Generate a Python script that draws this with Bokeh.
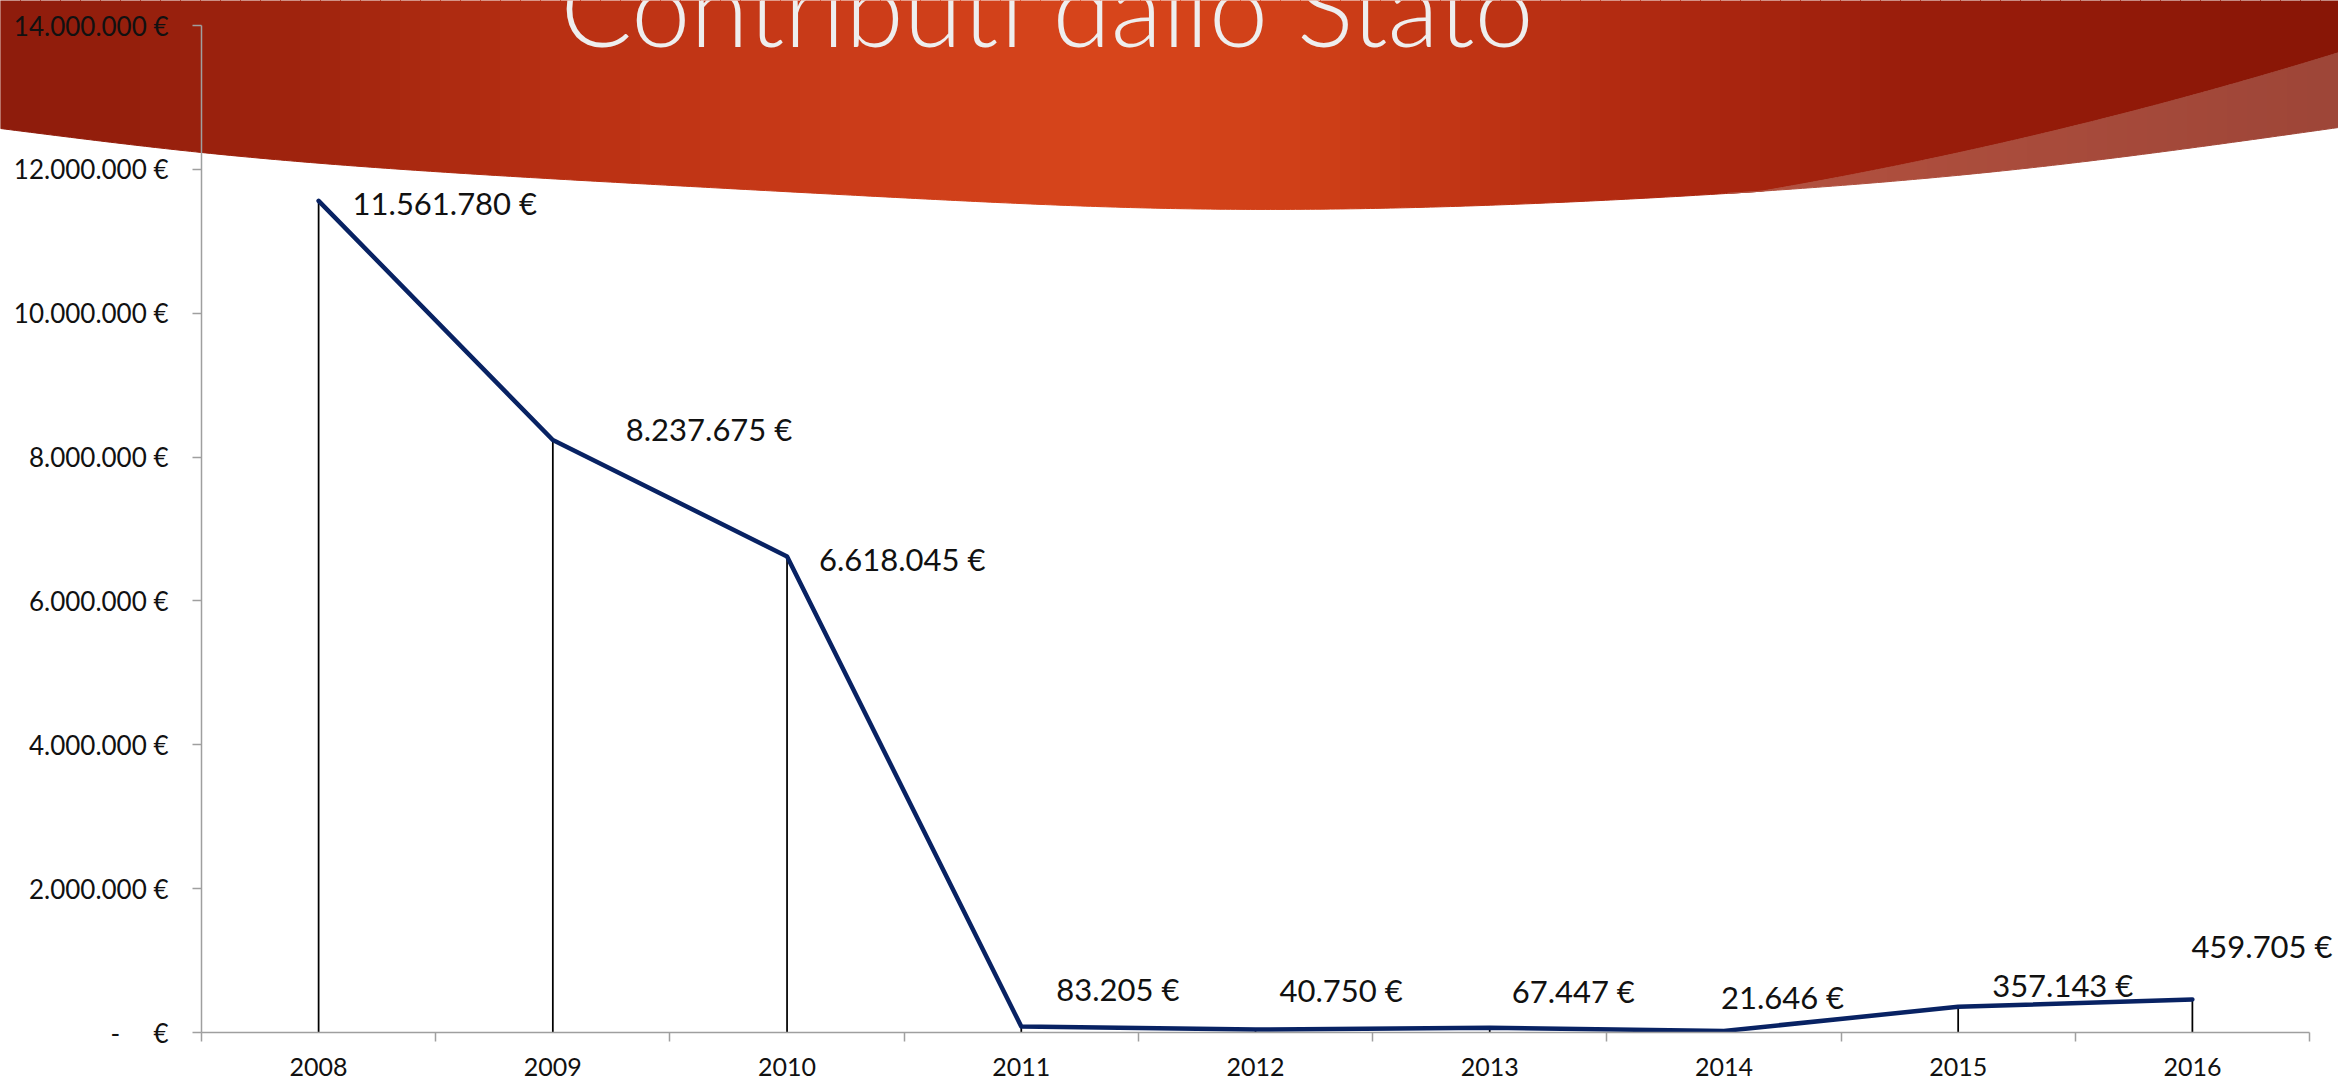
import numpy as np
from bokeh.plotting import figure
from bokeh.layouts import column
from bokeh.models import ColumnDataSource, LabelSet, FixedTicker, Range1d
from bokeh.core.properties import value
from bokeh.embed import file_html
from bokeh.resources import INLINE

# ---------------- data ----------------
years = [2008, 2009, 2010, 2011, 2012, 2013, 2014, 2015, 2016]
values = [11561780, 8237675, 6618045, 83205, 40750, 67447, 21646, 357143, 459705]
y_ticks = [0, 2000000, 4000000, 6000000, 8000000, 10000000, 12000000, 14000000]
y_tick_labels = ["-\u00a0\u00a0\u00a0\u00a0\u00a0€", "2.000.000 €", "4.000.000 €", "6.000.000 €",
                 "8.000.000 €", "10.000.000 €", "12.000.000 €", "14.000.000 €"]
title_text = "Contributi dallo Stato"

value_labels = [f"{v:,}".replace(",", ".") + " €" for v in values]

# label placement (screen px offsets, style only)
label_dx = [34, 73, 32, 35, 24, 22, -3, 34, -1]
label_dy = [-2, 11, -3, 38, 40, 37, 34, 22, 53]

# ---------------- geometry ----------------
W, H = 2338, 1081
EXTRA = 8          # chart figure is taller; extra hidden by negative bottom margin
AX_LEFT, AX_RIGHT, AX_TOP, AX_BOTTOM = 201, 2309, 25, 1032   # axis box in page px
X0, X1 = years[0] - 0.5, years[-1] + 0.5
Y0, Y1 = 0, 14000000
px_per_x = (AX_RIGHT - AX_LEFT) / (X1 - X0)
px_per_y = (AX_BOTTOM - AX_TOP) / (Y1 - Y0)

# ---------------- background figure (banner + title) ----------------
bg = figure(width=W, height=H, output_backend="svg", toolbar_location=None,
            x_range=Range1d(0, W), y_range=Range1d(H, 0),
            x_axis_type=None, y_axis_type=None, min_border=0)
bg.frame_align = False
bg.grid.visible = False
bg.outline_line_color = None
bg.background_fill_color = "white"
bg.border_fill_color = "white"


def spline(xk, yk, x):
    xk = np.asarray(xk, float)
    yk = np.asarray(yk, float)
    n = len(xk)
    h = np.diff(xk)
    A = np.zeros((n, n))
    r = np.zeros(n)
    A[0, 0] = A[-1, -1] = 1
    for i in range(1, n - 1):
        A[i, i - 1] = h[i - 1]
        A[i, i] = 2 * (h[i - 1] + h[i])
        A[i, i + 1] = h[i]
        r[i] = 3 * ((yk[i + 1] - yk[i]) / h[i] - (yk[i] - yk[i - 1]) / h[i - 1])
    c = np.linalg.solve(A, r)
    b = (yk[1:] - yk[:-1]) / h - h * (2 * c[:-1] + c[1:]) / 3
    d = (c[1:] - c[:-1]) / (3 * h)
    x = np.asarray(x, float)
    idx = np.clip(np.searchsorted(xk, x) - 1, 0, n - 2)
    t = x - xk[idx]
    return yk[idx] + b[idx] * t + c[idx] * t ** 2 + d[idx] * t ** 3


wx = [0, 201, 448, 672, 896, 1170, 1600, 1741, 2024, 2338]
wy = [128, 152, 172, 185, 197, 208, 200, 192, 168, 127]
dx_ = np.array([1727, 1882, 2024, 2165, 2338], float)
dy_ = np.array([195, 170, 140, 97, 54], float)
dark_c = np.polyfit(dx_, dy_, 2)
SPLIT = 1735.0


def white_edge(x):
    return spline(wx, wy, x)


def dark_edge(x):
    x = np.asarray(x, float)
    return np.where(x < SPLIT, white_edge(x), np.minimum(white_edge(x), np.polyval(dark_c, x)))


gx = [0, 300, 600, 900, 1100, 1300, 1600, 1900, 2338]
gr = [142, 160, 188, 206, 216, 208, 180, 155, 136]
gg = [28, 36, 50, 62, 70, 64, 44, 30, 22]
gb = [12, 14, 20, 26, 28, 24, 18, 12, 6]


def hexcol(r, g, b):
    return "#%02x%02x%02x" % (int(r), int(g), int(b))


step = 20
pxs, pys, cols = [], [], []
for a in np.arange(0, W, step):
    b = a + step
    sx = np.linspace(a, b, 5)
    sy = dark_edge(sx)
    pxs.append([a, b] + list(sx[::-1]))
    pys.append([-10, -10] + list(sy[::-1]))
    m = a + step / 2
    cols.append(hexcol(np.interp(m, gx, gr), np.interp(m, gx, gg), np.interp(m, gx, gb)))

lx = [1727, 2338]
lr, lg, lb = [180, 158], [82, 70], [64, 56]
for a in np.arange(1727, W, step):
    b = a + step
    sx = np.linspace(a, b, 5)
    bot = white_edge(sx)
    top = np.minimum(np.polyval(dark_c, sx), bot)
    pxs.append(list(sx) + list(sx[::-1]))
    pys.append(list(top) + list(bot[::-1]))
    m = a + step / 2
    cols.append(hexcol(np.interp(m, lx, lr), np.interp(m, lx, lg), np.interp(m, lx, lb)))

bg.patches(xs=pxs, ys=pys, fill_color=cols, line_color=cols, line_width=1)
bg.text(x=[560], y=[5], text=[title_text], text_font=value("Lato Light"),
        text_font_size="106px", text_color="#eeeeee",
        text_align="left", text_baseline="alphabetic")

# ---------------- chart figure (transparent, overlaid) ----------------
PH = H + EXTRA
p = figure(width=W, height=PH, output_backend="svg", toolbar_location=None,
           x_range=Range1d(X0, X0 + (W - AX_LEFT) / px_per_x),
           y_range=Range1d(Y0, Y0 + AX_BOTTOM / px_per_y),
           min_border_left=AX_LEFT, min_border_top=0, min_border_right=0,
           min_border_bottom=PH - AX_BOTTOM)
p.frame_align = False
p.grid.visible = False
p.outline_line_color = None
p.background_fill_color = None
p.border_fill_color = None
p.margin = (-H, 0, -EXTRA, 0)

src = ColumnDataSource(dict(x=years, v=values, lab=value_labels, dx=label_dx, dy=label_dy))
p.segment(x0="x", y0=0, x1="x", y1="v", source=src, line_color="black", line_width=1.75)
p.line("x", "v", source=src, line_color="#082263", line_width=4.5,
       line_join="round", line_cap="round")
p.add_layout(LabelSet(x="x", y="v", text="lab", source=src, x_offset="dx", y_offset="dy",
                      text_font=value("Lato"), text_font_size="31px",
                      text_align="left", text_baseline="middle", text_color="#111111"))

axis_col = "#9f9f9f"
ya = p.yaxis[0]
ya.bounds = (Y0, Y1)
ya.ticker = FixedTicker(ticks=y_ticks, minor_ticks=[])
ya.major_label_overrides = {t: s for t, s in zip(y_ticks, y_tick_labels)}
ya.axis_line_color = axis_col
ya.axis_line_width = 1.5
ya.major_tick_line_color = axis_col
ya.major_tick_line_width = 1.5
ya.major_tick_out = 9
ya.major_tick_in = 0
ya.minor_tick_line_color = None
ya.major_label_standoff = 24
ya.major_label_text_font = "Lato"
ya.major_label_text_font_size = "26px"
ya.major_label_text_color = "#111111"
ya.background_fill_color = None

xa = p.xaxis[0]
xa.bounds = (X0, X1)
xa.ticker = FixedTicker(ticks=years, minor_ticks=[y - 0.5 for y in years] + [years[-1] + 0.5])
xa.axis_line_color = axis_col
xa.axis_line_width = 1.5
xa.major_tick_line_color = None
xa.major_tick_out = 9
xa.major_tick_in = 0
xa.minor_tick_line_color = axis_col
xa.minor_tick_line_width = 1.5
xa.minor_tick_out = 9
xa.minor_tick_in = 0
xa.major_label_standoff = 16
xa.major_label_text_font = "Lato"
xa.major_label_text_font_size = "25px"
xa.major_label_text_color = "#111111"
xa.background_fill_color = None

layout = column(bg, p)
open("out.html", "w").write(file_html(layout, INLINE))
